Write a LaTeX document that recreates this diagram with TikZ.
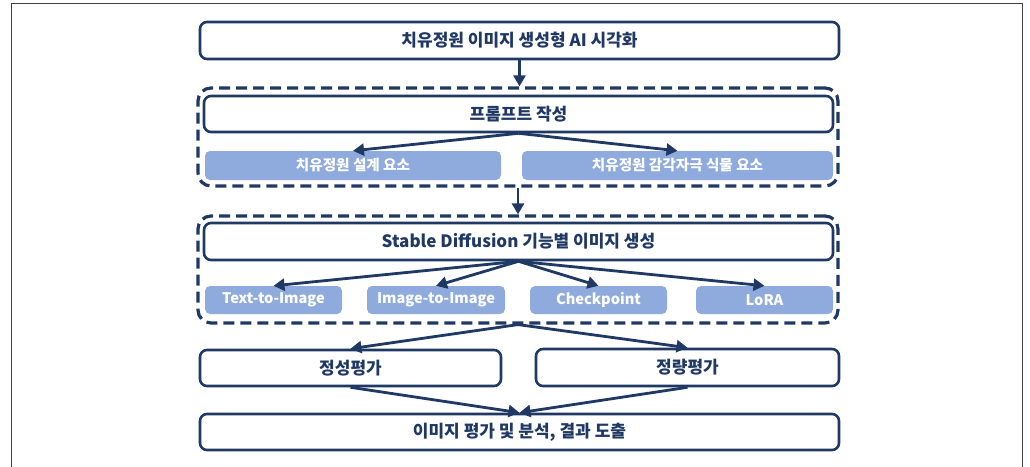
\documentclass[tikz,border=0pt]{standalone}
\usepackage{fontspec}
\setmainfont{Noto Sans CJK KR}
\usetikzlibrary{arrows.meta}
\definecolor{navy}{HTML}{1F3864}
\definecolor{lightb}{HTML}{8FAADC}
\definecolor{framec}{HTML}{404040}
\tikzset{
  mainbox/.style={draw=navy, line width=2.6pt, rounded corners=7pt, fill=white, text=navy, font=\bfseries\fontsize{17}{19}\selectfont, inner sep=0pt},
  subbox/.style={fill=lightb, rounded corners=5pt, text=white, font=\bfseries\fontsize{14.6}{17}\selectfont, inner sep=0pt},
  groupbox/.style={draw=navy, line width=3.2pt, rounded corners=13pt, dash pattern=on 11pt off 6pt, inner sep=0pt},
  arr/.style={draw=navy, line width=2.8pt, -{Triangle[width=12pt,length=11pt]}},
}
\begin{document}
\begin{tikzpicture}[x=1pt,y=-1pt]
\useasboundingbox (0,0) rectangle (1030,466);
\draw[framec, line width=1pt] (11,470) -- (11,3) -- (1022,3) -- (1022,470);

\node[groupbox, minimum width=640pt, minimum height=98pt] (g1) at (518,137) {};
\node[groupbox, minimum width=640pt, minimum height=107pt] (g2) at (518,269.5) {};

\node[mainbox, minimum width=639pt, minimum height=37pt] (top) at (519.5,40.5) {치유정원 이미지 생성형 AI 시각화};
\node[mainbox, minimum width=629pt, minimum height=36pt] (p) at (518.5,114) {프롬프트 작성};
\node[subbox, minimum width=296pt, minimum height=29pt] (s1) at (353,165.5) {치유정원 설계 요소};
\node[subbox, minimum width=311pt, minimum height=29pt] (s2) at (677.5,165.5) {치유정원 감각자극 식물 요소};

\node[mainbox, minimum width=629pt, minimum height=37pt] (sd) at (518.5,241.5) {Stable Diffusion 기능별 이미지 생성};
\node[subbox, minimum width=137pt, minimum height=28pt] (t1) at (273.5,300) {Text-to-Image};
\node[subbox, minimum width=138pt, minimum height=28pt] (t2) at (436,300) {Image-to-Image};
\node[subbox, minimum width=137pt, minimum height=28pt] (t3) at (598.5,300) {Checkpoint};
\node[subbox, minimum width=137pt, minimum height=28pt] (t4) at (764.5,300) {LoRA};

\node[mainbox, minimum width=301pt, minimum height=36pt] (q1) at (350.5,368) {정성평가};
\node[mainbox, minimum width=303pt, minimum height=37pt] (q2) at (687.5,367.5) {정량평가};
\node[mainbox, minimum width=639pt, minimum height=36pt] (b) at (519.5,432) {이미지 평가 및 분석, 결과 도출};

\draw[arr] (top.south) -- (top.south |- g1.north);
\draw[arr] (p.south) -- (s1.north);
\draw[arr] (p.south) -- (s2.north);
\draw[arr] (g1.south) -- (g2.north);
\draw[arr] (sd.south) -- (t1.north);
\draw[arr] (sd.south) -- (t2.north);
\draw[arr] (sd.south) -- (t3.north);
\draw[arr] (sd.south) -- (t4.north);
\draw[arr] (g2.south) -- (q1.north);
\draw[arr] (g2.south) -- (q2.north);
\draw[arr] (q1.south) -- (b.north);
\draw[arr] (q2.south) -- (b.north);
\end{tikzpicture}
\end{document}
